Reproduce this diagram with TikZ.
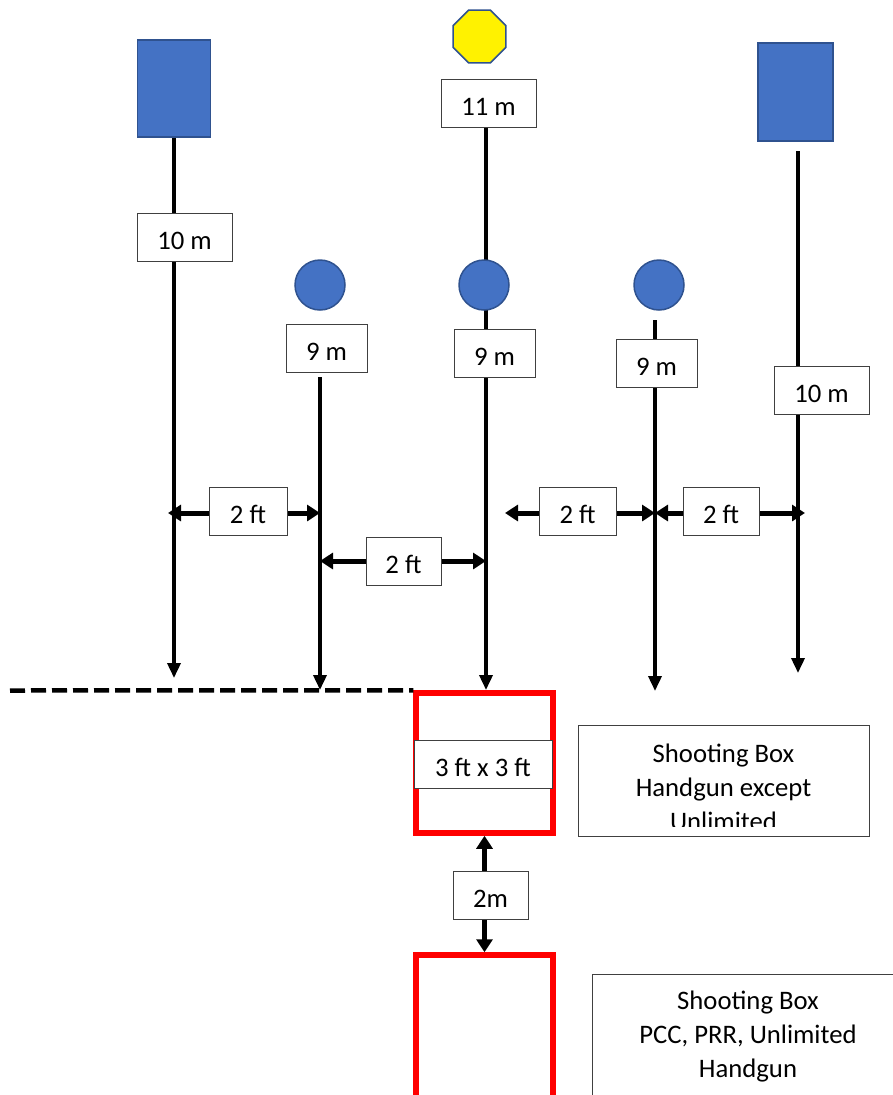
\documentclass[tikz,border=0pt]{standalone}
\usepackage{fontspec}
\setmainfont{Carlito}
\usetikzlibrary{arrows.meta,shapes.geometric}
\definecolor{tblue}{HTML}{4472C4}
\definecolor{tedge}{HTML}{2F528F}
\begin{document}
\begin{tikzpicture}[x=1pt, y=-1pt,
    font=\fontsize{26.7}{34}\selectfont,
    paper/.style={draw=tedge, fill=tblue, line width=1.5pt, minimum width=73pt, minimum height=97pt, inner sep=0},
    plate/.style={draw=tedge, fill=tblue, circle, line width=1.5pt, minimum size=50pt, inner sep=0},
    lbl/.style={draw=black!75, fill=white, line width=1pt, minimum height=48pt, inner sep=0, text height=24pt, text depth=0pt},
    dist/.style={line width=3.5pt, -{Triangle[width=13pt,length=15pt]}},
    gap/.style={line width=5pt, {Triangle[width=16pt,length=13pt]}-{Triangle[width=16pt,length=13pt]}},
    fbox/.style={draw=red, line width=5.5pt, minimum width=137pt, inner sep=0}]
        \useasboundingbox (0,0) rectangle (893,1095);
        \clip (0,0) rectangle (893,1095);

        % targets
        \node[paper] (PL) at (174,88.5) {};
        \node[paper, minimum width=75pt, minimum height=98pt] (PR) at (795.5,92) {};
        \node[regular polygon, regular polygon sides=8, draw=tedge, fill=yellow, line width=1.5pt, minimum size=57pt, inner sep=0] (S) at (479.5,36.5) {};
        \node[lbl, minimum width=95pt] (D11) at (488.5,103) {11 m};

        % line ends
        \coordinate (EL) at (174,678);
        \coordinate (E2) at (320,690);
        \coordinate (EC) at (486,690);
        \coordinate (E4) at (655,691);
        \coordinate (ER) at (798,673);
        \coordinate (T2) at (320,377);
        \coordinate (T4) at (655,320);
        \coordinate (TR) at (798,151);

        \draw[dist] (PL) -- (EL);
        \draw[dist] (T2) -- (E2);
        \draw[dist] (D11.south -| EC) -- (EC);
        \draw[dist] (T4) -- (E4);
        \draw[dist] (TR) -- (ER);

        % plates
        \node[plate] (P1) at (320,285) {};
        \node[plate] (P2) at (484,285) {};
        \node[plate] (P3) at (659,285) {};

        \node[lbl, minimum width=95pt] (D10L) at (184.5,237) {10 m};
        \node[lbl, minimum width=81pt] (D9a) at (326.5,348) {9 m};
        \node[lbl, minimum width=81pt] (D9b) at (494.5,353) {9 m};
        \node[lbl, minimum width=81pt] (D9c) at (656.5,363) {9 m};
        \node[lbl, minimum width=95pt] (D10R) at (821.5,390) {10 m};

        % spacing between lines
        \coordinate (A1) at (168,513);
        \coordinate (A2) at (320,513);
        \coordinate (B1) at (320,561);
        \coordinate (B2) at (486,561);
        \coordinate (C1) at (505,513);
        \coordinate (C2) at (655,513);
        \coordinate (C3) at (805,513);

        \draw[gap] (A1) -- (A2);
        \draw[gap] (B1) -- (B2);
        \draw[gap] (C1) -- (C2);
        \draw[gap] (C2) -- (C3);
        \node[lbl, minimum width=78pt] (F1) at (248,511) {2 ft};
        \node[lbl, minimum width=75pt] (F2) at (403.5,561) {2 ft};
        \node[lbl, minimum width=77pt] (F3) at (577.5,511) {2 ft};
        \node[lbl, minimum width=76pt] (F4) at (721,511) {2 ft};

        % shooting boxes
        \node[fbox, minimum height=140pt] (box1) at (484.5,763) {};
        \node[fbox, minimum height=245pt] (box2) at (484.5,1077.5) {};
        \coordinate (DL) at (10,690.5);
        \draw[line width=4.5pt, dash pattern=on 15pt off 6pt] (DL) -- (box1.north west);
        \node[lbl, minimum width=138pt] (size) at (483,764) {3 ft x 3 ft};
        \draw[gap] (box1) -- (box2);
        \node[lbl, minimum width=75pt] (D2m) at (490.5,895) {2m};

        % notes
        \node[draw=black!75, line width=1pt, minimum width=291pt, minimum height=111pt] (note1) at (723.5,780.5) {};
        \begin{scope}
          \clip (578,725) rectangle (869,826);
          \node[align=center] (txt1) at (723.5,787) {Shooting Box\\Handgun except\\Unlimited};
        \end{scope}
        \node[draw=black!75, line width=1pt, minimum width=400pt, minimum height=300pt, anchor=north west] (note2) at (592,974) {};
        \node[align=center] (txt2) at (748,1037) {Shooting Box\\PCC, PRR, Unlimited\\Handgun};
      \end{tikzpicture}
\end{document}
